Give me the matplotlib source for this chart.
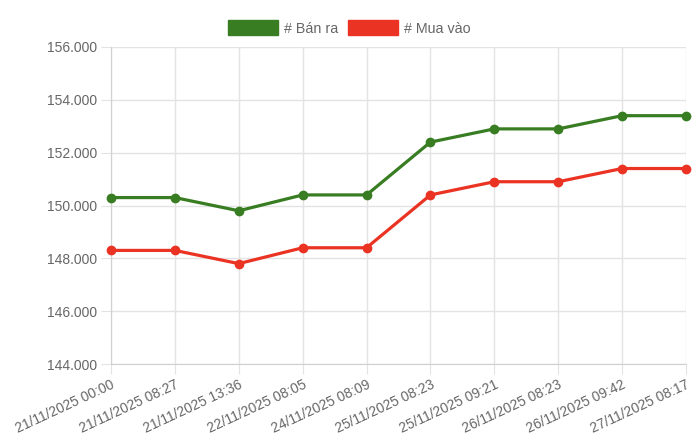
import matplotlib
matplotlib.use("Agg")
import matplotlib.pyplot as plt
from matplotlib.patches import Patch
from matplotlib.ticker import FuncFormatter

plt.rcParams["font.family"] = ["Liberation Sans", "DejaVu Sans"]

labels = ["21/11/2025 00:00", "21/11/2025 08:27", "21/11/2025 13:36",
          "22/11/2025 08:05", "24/11/2025 08:09", "25/11/2025 08:23",
          "25/11/2025 09:21", "26/11/2025 08:23", "26/11/2025 09:42",
          "27/11/2025 08:17"]
ban_ra = [150300, 150300, 149800, 150400, 150400, 152400, 152900, 152900, 153400, 153400]
mua_vao = [148300, 148300, 147800, 148400, 148400, 150400, 150900, 150900, 151400, 151400]
yticks = [144000, 146000, 148000, 150000, 152000, 154000, 156000]

green = "#387d22"
red = "#ea3323"
grid_c = "#e3e3e3"
text_c = "#666666"

fig = plt.figure(figsize=(7, 4.41), dpi=100)
ax = fig.add_axes([111/700, 1-364/441, (686-111)/700, (364-47)/441])

x = list(range(len(labels)))
ax.plot(x, ban_ra, color=green, lw=2.3, marker="o", ms=6, zorder=3, clip_on=False)
ax.plot(x, mua_vao, color=red, lw=2.3, marker="o", ms=6, zorder=3, clip_on=False)

ax.set_xlim(0, len(labels) - 1)
ax.set_ylim(144000, 156000)
ax.set_yticks(yticks)
ax.yaxis.set_major_formatter(FuncFormatter(lambda v, p: f"{v:,.0f}".replace(",", ".")))
ax.set_xticks(x)
ax.set_xticklabels(labels, rotation=25, ha="right", va="top", rotation_mode="anchor")

ax.grid(True, color=grid_c, lw=1)
ax.set_axisbelow(True)
for s in ["top", "right"]:
    ax.spines[s].set_visible(False)
for s in ["left", "bottom"]:
    ax.spines[s].set_color("#d0d0d0")
ax.tick_params(axis="both", length=7, color=grid_c, labelcolor=text_c, labelsize=10, pad=3)

handles = [Patch(facecolor=green, edgecolor=green, label="# Bán ra"),
           Patch(facecolor=red, edgecolor=red, label="# Mua vào")]
fig.legend(handles=handles, loc="center", bbox_to_anchor=(349/700, 1-28/441), ncol=2,
           frameon=False, fontsize=10.3, handlelength=3.5, handleheight=1.2,
           handletextpad=0.4, columnspacing=0.7, labelcolor=text_c)

fig.savefig("out.png", dpi=100)
